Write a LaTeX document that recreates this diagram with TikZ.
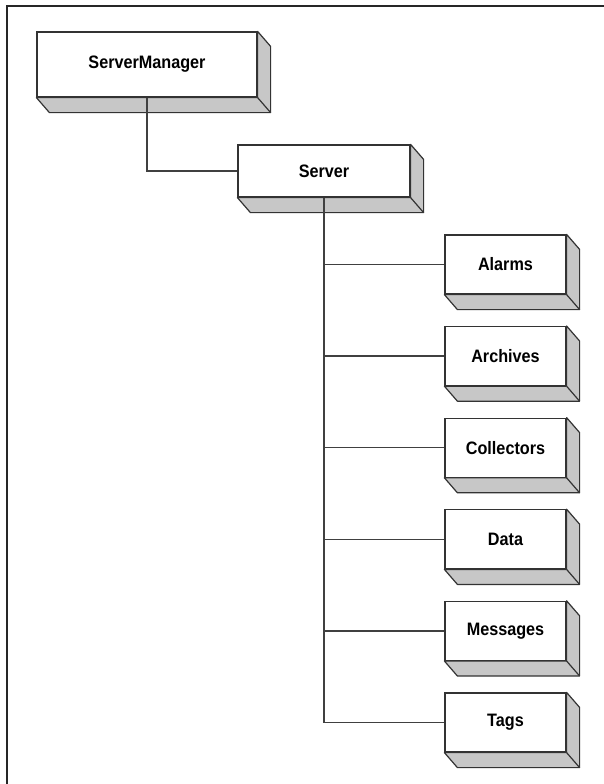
\documentclass[tikz,border=0pt]{standalone}
\usepackage{fontspec}
\newfontfamily\boxfont[FakeStretch=0.9]{Liberation Sans}
\usepackage{tikz}
\usetikzlibrary{positioning,calc}

\begin{document}
\begin{tikzpicture}[
    x=1pt, y=-1pt,
    box/.style={draw=black!80, fill=white, line width=1.2pt, inner sep=0pt,
        minimum width=121pt, minimum height=59pt,
        font=\boxfont\bfseries\fontsize{18}{20}\selectfont},
    face/.style={draw=black!80, fill=black!22, line width=1.2pt, line join=round},
    link/.style={draw=black!75, line width=1.3pt},
    node distance=31.4pt
]
\useasboundingbox (0,0) rectangle (604,784);
% frame
\draw[line width=2pt, black!85] (6.5,784) -- (6.5,6.5) -- (604,6.5);

% Top of the tree
\node[box, minimum width=220pt, minimum height=65pt] (mgr) at (147,64.5) {ServerManager};
\node[box, minimum width=172pt, minimum height=52pt] (srv) at (324,171) {Server};

% Children
\node[box] (alarms) at (505.5,264.5) {Alarms};
\node[box, below=of alarms] (archives) {Archives};
\node[box, below=of archives] (collectors) {Collectors};
\node[box, below=of collectors] (data) {Data};
\node[box, below=of data] (messages) {Messages};
\node[box, below=of messages] (tags) {Tags};

% Side and bottom faces
\foreach \n in {mgr,srv,alarms,archives,collectors,data,messages,tags} {
    \filldraw[face] (\n.north east) -- ($(\n.north east)+(13,15)$)
        -- ($(\n.south east)+(13,15)$) -- ($(\n.south west)+(13,15)$)
        -- (\n.south west) -- (\n.south east) -- cycle;
    \draw[face] (\n.south east) -- ($(\n.south east)+(13,15)$);
}

% Connectors
\draw[link] (mgr.south) |- (srv.west);
\draw[link] (srv.south) |- (tags.west);
\foreach \n in {alarms,archives,collectors,data,messages} {
    \draw[link] (srv.south |- \n.west) -- (\n.west);
}
\end{tikzpicture}
\end{document}
